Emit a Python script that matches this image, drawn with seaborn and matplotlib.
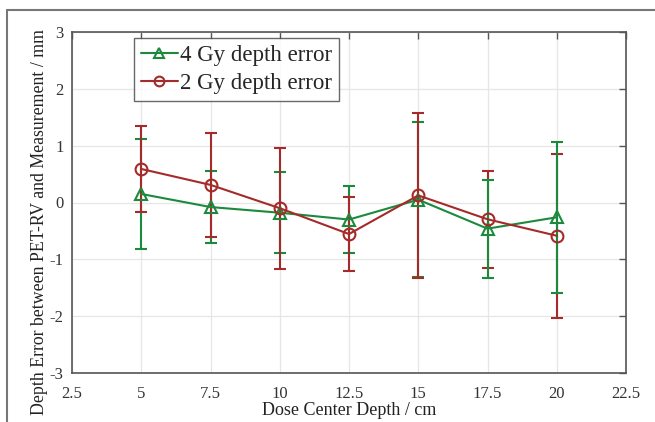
import matplotlib
matplotlib.use("Agg")
import matplotlib.pyplot as plt
import seaborn as sns
import pandas as pd
import numpy as np
from matplotlib.lines import Line2D

depth = [5, 7.5, 10, 12.5, 15, 17.5, 20]
err4_mean = [0.15, -0.08, -0.18, -0.30, 0.05, -0.46, -0.26]
err4_sd = [0.97, 0.635, 0.715, 0.59, 1.36, 0.86, 1.325]
err2_mean = [0.59, 0.31, -0.10, -0.555, 0.125, -0.295, -0.585]
err2_sd = [0.76, 0.91, 1.065, 0.655, 1.445, 0.855, 1.445]
xticks = [2.5, 5, 7.5, 10, 12.5, 15, 17.5, 20, 22.5]
yticks = [-3, -2, -1, 0, 1, 2, 3]
labels = ["4 Gy depth error", "2 Gy depth error"]

green = "#1b8a3c"
red = "#a52a2a"

sns.set_style("white")
plt.rcParams["font.family"] = ["Liberation Serif", "DejaVu Serif"]

fig = plt.figure(figsize=(6.55, 4.22), dpi=100)
ax = fig.add_axes([72 / 655, 1 - 373 / 422, (626 - 72) / 655, (373 - 32) / 422])

df = pd.DataFrame({
    "depth": depth * 2,
    "err": err4_mean + err2_mean,
    "series": [labels[0]] * len(depth) + [labels[1]] * len(depth),
})

# error bars (red on top of green except last two depths)
ax.errorbar(depth[:5], err4_mean[:5], yerr=err4_sd[:5], fmt="none", ecolor=green,
            elinewidth=1.5, capsize=4.5, capthick=1.5, zorder=2)
ax.errorbar(depth, err2_mean, yerr=err2_sd, fmt="none", ecolor=red,
            elinewidth=1.5, capsize=4.5, capthick=1.5, zorder=3)
ax.errorbar(depth[5:], err4_mean[5:], yerr=err4_sd[5:], fmt="none", ecolor=green,
            elinewidth=1.5, capsize=4.5, capthick=1.5, zorder=4)

sns.lineplot(data=df, x="depth", y="err", hue="series", style="series",
             palette=[green, red], markers=["^", "o"], dashes=False,
             markersize=8.5, markerfacecolor="none", markeredgewidth=1.5,
             linewidth=1.5, ax=ax, zorder=5, legend=False)
for line, c in zip(ax.lines[-2:], [green, red]):
    line.set_markeredgecolor(c)
    line.set_markerfacecolor("none")
    line.set_zorder(5)

ax.set_xlim(2.5, 22.5)
ax.set_ylim(-3, 3)
ax.set_xticks(xticks)
ax.set_xticklabels([f"{t:g}" for t in xticks])
ax.set_yticks(yticks)
ax.set_yticklabels([f"{t:g}" for t in yticks])
ax.grid(True, color="#e6e6e6", linewidth=0.9)
ax.set_axisbelow(True)
for s in ax.spines.values():
    s.set_color("#555555")
    s.set_linewidth(1.2)
    s.set_visible(True)
ax.tick_params(direction="in", length=5, width=1.0, color="#555555",
               top=True, right=True, labelsize=12, labelcolor="#333333")
ax.tick_params(axis="x", pad=9.5)
ax.tick_params(axis="y", pad=6, labelright=False)
ax.set_xlabel("Dose Center Depth / cm", fontsize=13, color="#222222", labelpad=0)
ax.set_ylabel("Depth Error between PET-RV and Measurement / mm", fontsize=12.8,
              color="#222222")
ax.yaxis.set_label_coords(-0.043, 0.443)

handles = [
    Line2D([], [], color=green, marker="^", markersize=7, markerfacecolor="none",
           markeredgewidth=1.5, linewidth=1.5),
    Line2D([], [], color=red, marker="o", markersize=7, markerfacecolor="none",
           markeredgewidth=1.5, linewidth=1.5),
]
leg = ax.legend(handles, labels, loc="upper left", bbox_to_anchor=(0.112, 0.982),
                fontsize=16.5, frameon=True, fancybox=False, shadow=False,
                handlelength=1.6, handletextpad=0.12, borderpad=0.3,
                borderaxespad=0.0, labelspacing=0.3)
leg.get_frame().set_edgecolor("#444444")
leg.get_frame().set_linewidth(1.0)
leg.set_zorder(10)

# outer frame lines
fig.add_artist(Line2D([7 / 655, 7 / 655], [0, 1 - 10 / 422], transform=fig.transFigure,
                      color="#777777", linewidth=1.5))
fig.add_artist(Line2D([7 / 655, 1], [1 - 10 / 422, 1 - 10 / 422], transform=fig.transFigure,
                      color="#777777", linewidth=1.5))

fig.savefig("out.png", dpi=100, facecolor="white")
